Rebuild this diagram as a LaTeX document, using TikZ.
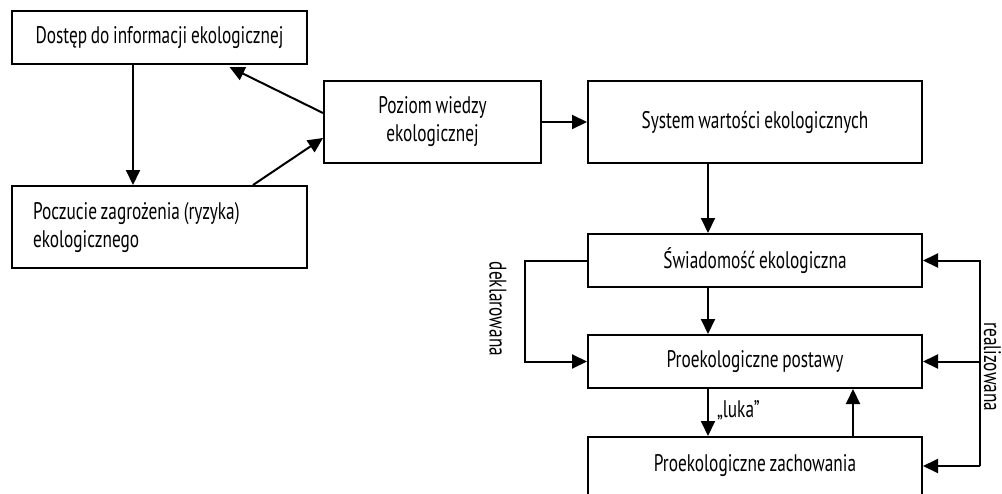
\documentclass[tikz,border=0pt]{standalone}
\usepackage{fontspec}
\setmainfont{PT Sans}[FakeStretch=0.72,WordSpace=0.8]
\usetikzlibrary{arrows.meta,calc}
\begin{document}
\begin{tikzpicture}[x=1pt,y=-1pt,
  box/.style={draw,line width=2pt,inner sep=0pt,align=center,font=\fontsize{24}{28}\selectfont},
  lbl/.style={inner sep=0pt,font=\fontsize{24}{28}\selectfont},
  arr/.style={line width=2pt,-{Triangle[length=15pt,width=14pt]}},
  ln/.style={line width=2pt}]
\useasboundingbox (0,0) rectangle (1002,493);
\clip (0,0) rectangle (1002,493);
\node[box,minimum width=295pt,minimum height=53pt] (b1) at (159.5,37.5) {Dostęp do informacji ekologicznej};
\node[box,minimum width=295pt,minimum height=82pt,text width=253pt,align=flush left] (b2) at (159.5,227) {Poczucie zagrożenia (ryzyka)\\ekologicznego};
\node[box,minimum width=217pt,minimum height=82pt] (b3) at (432.5,122) {Poziom wiedzy\\ekologicznej};
\node[box,minimum width=334pt,minimum height=82pt] (b4) at (755,122) {System wartości ekologicznych};
\node[box,minimum width=334pt,minimum height=53pt] (b5) at (755,260.5) {Świadomość ekologiczna};
\node[box,minimum width=334pt,minimum height=53pt] (b6) at (755,361.5) {Proekologiczne postawy};
\node[box,minimum width=334pt,minimum height=58pt] (b7) at (755,466) {Proekologiczne zachowania};
\draw[arr] ([xshift=-26.5pt]b1.south) -- ([xshift=-26.5pt]b2.north);
\draw[arr] ([yshift=9pt]b3.west) -- ([xshift=70pt,yshift=-2pt]b1.south);
\draw[arr] ([xshift=93.5pt]b2.north) -- ([yshift=-16pt]b3.west);
\draw[arr] (b3.east) -- (b4.west);
\draw[arr] ([xshift=-47pt]b4.south) -- ([xshift=-47pt]b5.north);
\draw[arr] ([xshift=-47pt]b5.south) -- ([xshift=-47pt]b6.north);
\draw[arr] ([xshift=-47pt]b6.south) -- node[lbl,right=8pt,pos=0.45] (luka) {„luka”} ([xshift=-47pt]b7.north);
\draw[arr] ([xshift=98pt]b7.north) -- ([xshift=98pt]b6.south);
\draw[arr] (b5.west) -- ++(-62,0) coordinate (dl) |- (b6.west);
\node[lbl,rotate=-90] (dek) at (498,309) {deklarowana};
\coordinate (rr) at ($(b7.east)+(57pt,0)$);
\draw[arr] (rr) |- (b5.east);
\draw[arr] (rr |- b6.east) -- (b6.east);
\draw[arr] (rr) -- (b7.east);
\node[lbl,rotate=-90] (rea) at (992.5,367) {realizowana};
\end{tikzpicture}
\end{document}
